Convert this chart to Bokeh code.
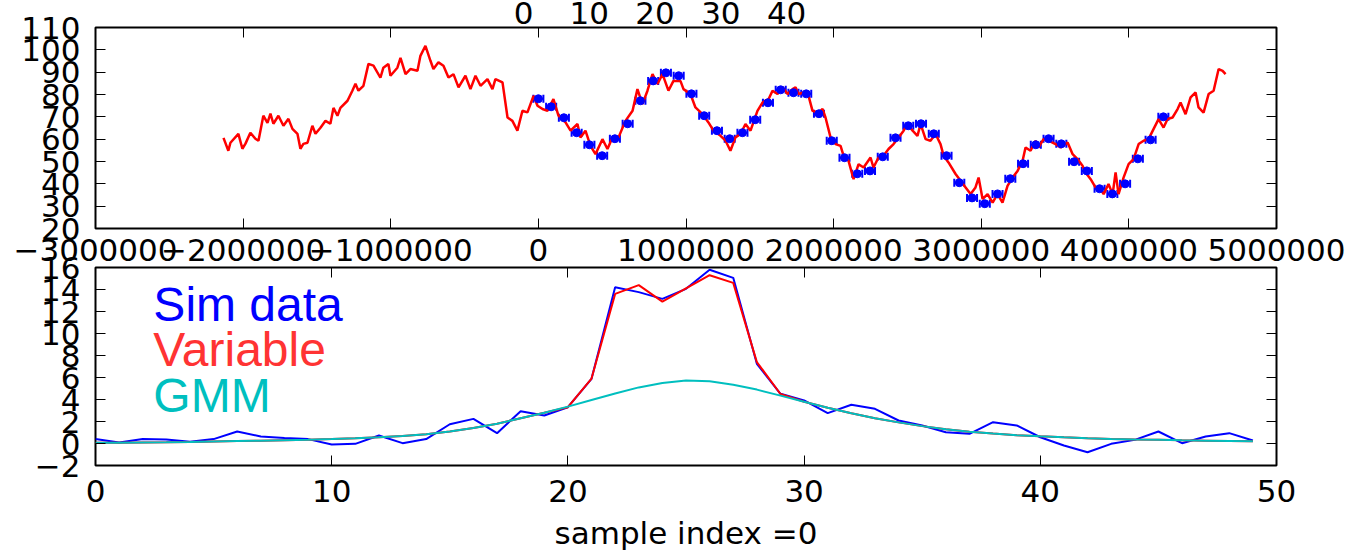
from bokeh.plotting import figure
from bokeh.layouts import column
from bokeh.models import (Range1d, LinearAxis, FixedTicker, ColumnDataSource,
                          Whisker, TeeHead, Label)
from bokeh.embed import file_html
from bokeh.resources import INLINE

# ---------------- data: top panel ----------------
walk_t = [-2133000, -2100000, -2086000, -2032000, -2005000, -1984000, -1951000, -1917000,
          -1896000, -1863000, -1835000, -1815000, -1795000, -1761000, -1727000, -1693000,
          -1666000, -1632000, -1612000, -1592000, -1564000, -1531000, -1510000, -1476000,
          -1442000, -1409000, -1388000, -1361000, -1341000, -1293000, -1260000, -1239000,
          -1219000, -1185000, -1151000, -1117000, -1070000, -1050000, -1016000, -1002000,
          -955000, -934000, -900000, -867000, -819000, -799000, -765000, -731000, -711000,
          -677000, -643000, -609000, -575000, -541000, -494000, -460000, -426000, -392000,
          -345000, -311000, -291000, -243000, -209000, -176000, -142000, -108000, -74000,
          -33000, -6000, 28000, 62000, 102000, 136000, 184000, 218000, 265000, 285000,
          319000, 353000, 387000, 434000, 468000, 502000, 543000, 590000, 638000, 671000,
          705000, 739000, 773000, 807000, 841000, 881000, 915000, 963000, 983000, 1030000,
          1064000, 1112000, 1152000, 1186000, 1234000, 1268000, 1301000, 1335000, 1369000,
          1403000, 1437000, 1484000, 1518000, 1559000, 1586000, 1620000, 1654000, 1688000,
          1722000, 1742000, 1762000, 1796000, 1830000, 1857000, 1898000, 1925000, 1945000,
          1979000, 2013000, 2047000, 2067000, 2101000, 2135000, 2169000, 2203000, 2250000,
          2270000, 2304000, 2338000, 2372000, 2406000, 2440000, 2474000, 2501000, 2535000,
          2568000, 2589000, 2623000, 2656000, 2690000, 2724000, 2745000, 2778000, 2826000,
          2860000, 2894000, 2928000, 2961000, 2982000, 3009000, 3043000, 3077000, 3110000,
          3144000, 3178000, 3212000, 3246000, 3280000, 3300000, 3334000, 3368000, 3388000,
          3422000, 3456000, 3503000, 3537000, 3585000, 3619000, 3652000, 3686000, 3707000,
          3741000, 3774000, 3808000, 3829000, 3862000, 3890000, 3910000, 3930000, 3964000,
          3998000, 4032000, 4066000, 4100000, 4133000, 4167000, 4201000, 4235000, 4262000,
          4296000, 4330000, 4350000, 4384000, 4418000, 4452000, 4472000, 4506000, 4540000,
          4574000, 4608000, 4635000, 4655000]
walk_v = [60.6, 54.8, 58.4, 62.4, 55.7, 58.0, 62.9, 60.2,
          59.3, 70.5, 67.3, 71.4, 66.9, 70.5, 66.0, 69.1,
          64.6, 62.4, 55.7, 57.9, 58.4, 66.0, 62.4, 65.1,
          68.2, 66.9, 74.0, 70.5, 74.0, 77.2, 81.7, 84.8,
          81.7, 83.9, 93.7, 92.9, 87.5, 92.0, 93.7, 88.4,
          92.0, 96.4, 89.1, 91.4, 90.6, 97.3, 101.8, 95.1, 91.4,
          94.4, 92.9, 87.6, 89.1, 83.2, 88.4, 82.4, 88.4, 83.9,
          86.9, 82.4, 86.9, 85.4, 69.7, 68.2, 63.8, 72.7, 72.0,
          79.4, 75.0, 73.5, 72.7, 77.9, 70.5, 67.5, 63.8, 66.8, 60.8,
          63.8, 57.0, 53.3, 60.0, 55.6, 60.8, 60.8, 68.2, 72.7, 82.4,
          75.7, 81.7, 89.1, 84.7, 89.1, 81.7, 86.1, 86.0, 82.4, 80.2,
          74.2, 71.2, 67.5, 63.8, 61.5, 59.3, 54.8, 60.8, 62.3,
          66.8, 63.8, 72.7, 76.4, 77.9, 81.7, 80.2, 83.2, 80.2,
          82.4, 83.2, 80.2, 80.9, 79.4, 72.7, 71.9, 73.5, 69.7,
          60.8, 57.8, 57.0, 52.6, 50.3, 42.1, 48.8, 47.3, 51.8,
          47.3, 51.8, 52.6, 55.6, 57.8, 60.8, 63.8, 66.8, 63.8,
          61.5, 66.8, 60.0, 59.3, 62.3, 57.8, 52.6, 49.6, 44.4,
          41.4, 38.4, 35.4, 38.4, 42.8, 33.2, 35.4, 31.6, 35.4,
          31.6, 39.1, 42.8, 45.8, 50.3, 56.3, 54.8, 59.3, 56.3,
          60.0, 59.3, 57.8, 56.3, 58.5, 53.3, 51.1, 48.1, 45.1,
          42.1, 38.4, 37.6, 35.4, 39.9, 35.4, 45.1, 35.4, 42.8,
          48.8, 51.1, 57.8, 59.3, 60.0, 64.5, 69.0, 65.2, 69.0,
          69.7, 73.5, 76.4, 71.2, 78.7, 80.9, 74.2, 71.9, 80.2,
          81.7, 91.4, 90.6, 89.1]

SECONDS_PER_DAY = 86400
sample_day = [0, 1, 2, 3, 4, 5, 6, 7, 8, 9, 10, 11, 12, 13, 14, 15, 16, 17, 18, 19,
              20, 21, 22, 23, 24, 25, 26, 27, 28, 29, 30, 31, 32, 33, 34, 35, 36, 37, 38, 39,
              40, 41, 42, 43, 44, 45, 46, 47, 48, 49]
sample_v = [78.1, 74.5, 69.6, 62.9, 57.5, 52.6, 60.2, 66.9, 77.2, 86.1,
            89.7, 88.4, 80.3, 70.5, 63.8, 60.2, 62.9, 68.7, 76.3, 82.1,
            80.8, 80.3, 71.4, 59.3, 51.7, 44.5, 45.8, 52.1, 60.6, 66.0,
            66.9, 62.4, 52.6, 40.5, 33.7, 31.1, 35.5, 42.3, 49.0, 57.5,
            60.2, 57.9, 49.9, 45.8, 37.8, 35.5, 40.0, 51.2, 59.7, 70.0]
sample_half_width = 34000  # horizontal error bar half width (seconds)

top_x_ticks = [-3000000, -2000000, -1000000, 0, 1000000, 2000000, 3000000, 4000000, 5000000]
top_x_labels = ["\u22123000000", "\u22122000000", "\u22121000000", "0", "1000000",
                "2000000", "3000000", "4000000", "5000000"]
top_y_ticks = [20, 30, 40, 50, 60, 70, 80, 90, 100, 110]
index_ticks = [0, 10, 20, 30, 40]
index_labels = ["0", "10", "20", "30", "40"]

# ---------------- data: bottom panel ----------------
sample_index = [0, 1, 2, 3, 4, 5, 6, 7, 8, 9, 10, 11, 12, 13, 14, 15, 16, 17, 18, 19,
                20, 21, 22, 23, 24, 25, 26, 27, 28, 29, 30, 31, 32, 33, 34, 35, 36, 37, 38, 39,
                40, 41, 42, 43, 44, 45, 46, 47, 48, 49]
sim_data = [0.4, 0.1, 0.4, 0.36, 0.15, 0.4, 1.09, 0.64, 0.5, 0.4,
            -0.09, -0.03, 0.73, 0.03, 0.4, 1.75, 2.24, 0.94, 2.94, 2.55,
            3.3, 5.88, 14.2, 13.76, 13.15, 14.06, 15.79, 15.06, 7.24, 4.52,
            3.91, 2.76, 3.52, 3.15, 2.09, 1.64, 1.03, 0.88, 1.94, 1.64,
            0.57, -0.18, -0.79, -0.03, 0.33, 1.09, 0.03, 0.64, 0.94, 0.27]
variable = [0.06, 0.07, 0.09, 0.11, 0.14, 0.18, 0.22, 0.26, 0.3, 0.34,
            0.4, 0.47, 0.56, 0.68, 0.85, 1.1, 1.4, 1.8, 2.3, 2.8,
            3.3, 5.9, 13.6, 14.4, 12.9, 14.1, 15.3, 14.6, 7.4, 4.5,
            3.8, 3.25, 2.75, 2.3, 1.92, 1.58, 1.3, 1.07, 0.9, 0.76,
            0.65, 0.56, 0.48, 0.42, 0.37, 0.33, 0.29, 0.26, 0.23, 0.2]
gmm = [0.06, 0.07, 0.09, 0.11, 0.14, 0.18, 0.22, 0.26, 0.3, 0.34,
       0.4, 0.47, 0.56, 0.68, 0.85, 1.1, 1.4, 1.8, 2.3, 2.8,
       3.35, 3.95, 4.55, 5.1, 5.5, 5.72, 5.65, 5.35, 4.9, 4.35,
       3.8, 3.25, 2.75, 2.3, 1.92, 1.58, 1.3, 1.07, 0.9, 0.76,
       0.65, 0.56, 0.48, 0.42, 0.37, 0.33, 0.29, 0.26, 0.23, 0.2]
bottom_x_ticks = [0, 10, 20, 30, 40, 50]
bottom_y_ticks = [-2, 0, 2, 4, 6, 8, 10, 12, 14, 16]
bottom_y_labels = ["\u22122", "0", "2", "4", "6", "8", "10", "12", "14", "16"]
legend_names = ["Sim data", "Variable", "GMM"]

# ---------------- styles ----------------
FONT = "DejaVu Sans"
TICK_FS = "31px"
BLUE = "#0000ff"
RED = "#ff0000"
CYAN = "#00bfbf"


def style_axis(ax, ticks, overrides=None, labels=True, standoff=4):
    ax.ticker = FixedTicker(ticks=ticks)
    ax.axis_line_color = None
    ax.major_tick_in = 10
    ax.major_tick_out = 0
    ax.major_tick_line_color = "black"
    ax.major_tick_line_width = 1
    ax.minor_tick_line_color = None
    ax.major_label_text_font = FONT
    if labels:
        ax.major_label_text_color = "black"
        ax.major_label_text_font_size = TICK_FS
        ax.major_label_standoff = standoff
    else:
        ax.major_label_text_color = None
        ax.major_label_text_font_size = "0px"
        ax.major_label_standoff = 0
    if overrides:
        ax.major_label_overrides = overrides


def base_fig(height, xr, yr, top, bottom, **kw):
    p = figure(width=1363, height=height, x_range=xr, y_range=yr,
               output_backend="svg", toolbar_location=None,
               min_border_left=95, min_border_right=87,
               min_border_top=top, min_border_bottom=bottom, **kw)
    p.outline_line_color = "black"
    p.outline_line_width = 2
    p.xgrid.visible = False
    p.ygrid.visible = False
    p.background_fill_color = "white"
    return p


# ---------------- top panel ----------------
# frame sits 40px below the canvas top; the canvas is lifted 13px so the frame lands at 27px
top = base_fig(285, Range1d(-3000000, 5000000), Range1d(20, 110), 40, 44,
               margin=(-13, 0, 0, 0))
top.border_fill_color = None
top.extra_x_ranges = {"idx": Range1d(-65.1, 114.5)}

top.line(walk_t, walk_v, line_color=RED, line_width=2.5)

sample_t = [d * SECONDS_PER_DAY for d in sample_day]
err_src = ColumnDataSource(dict(
    t=sample_t, v=sample_v,
    lo=[t - sample_half_width for t in sample_t],
    hi=[t + sample_half_width for t in sample_t]))
top.add_layout(Whisker(source=err_src, base="v", lower="lo", upper="hi",
                       dimension="width", line_color=BLUE, line_width=2,
                       lower_head=TeeHead(size=8, line_color=BLUE, line_width=2),
                       upper_head=TeeHead(size=8, line_color=BLUE, line_width=2)))
top.scatter("t", "v", source=err_src, marker="circle", size=8,
            fill_color=BLUE, line_color=BLUE)

style_axis(top.xaxis[0], top_x_ticks, dict(zip(top_x_ticks, top_x_labels)), standoff=10)
style_axis(top.yaxis[0], top_y_ticks, {t: str(t) for t in top_y_ticks}, standoff=15)

ax = LinearAxis()
style_axis(ax, top_y_ticks, labels=False)
top.add_layout(ax, "right")
ax = LinearAxis()
style_axis(ax, top_x_ticks, labels=False)
top.add_layout(ax, "above")
# secondary axis: sample index labels along the top edge (no tick marks)
ax = LinearAxis(x_range_name="idx")
style_axis(ax, index_ticks, dict(zip(index_ticks, index_labels)), standoff=4)
ax.major_tick_line_color = None
top.add_layout(ax, "above")

# ---------------- bottom panel ----------------
bot = base_fig(307, Range1d(0, 50), Range1d(-2, 16), 17, 92, margin=(-22, 0, 0, 0))
bot.border_fill_color = None

bot.line(sample_index, sim_data, line_color=BLUE, line_width=2)
bot.line(sample_index, variable, line_color=RED, line_width=2)
bot.line(sample_index, gmm, line_color=CYAN, line_width=2)

style_axis(bot.xaxis[0], bottom_x_ticks, {t: str(t) for t in bottom_x_ticks}, standoff=14)
style_axis(bot.yaxis[0], bottom_y_ticks, dict(zip(bottom_y_ticks, bottom_y_labels)), standoff=15)
bot.xaxis[0].axis_label = "sample index =0"
bot.xaxis[0].axis_label_text_font = FONT
bot.xaxis[0].axis_label_text_font_size = TICK_FS
bot.xaxis[0].axis_label_text_font_style = "normal"
bot.xaxis[0].axis_label_text_color = "black"
bot.xaxis[0].axis_label_standoff = 10

ax = LinearAxis()
style_axis(ax, bottom_y_ticks, labels=False)
bot.add_layout(ax, "right")
ax = LinearAxis()
style_axis(ax, bottom_x_ticks, labels=False)
bot.add_layout(ax, "above")

legend_colors = [BLUE, "#ff3333", CYAN]
legend_y = [12.64, 8.55, 4.36]
for name, col, yy in zip(legend_names, legend_colors, legend_y):
    bot.add_layout(Label(x=2.45, y=yy, text=name, text_color=col,
                         text_font="Liberation Sans", text_font_size="48px",
                         text_baseline="alphabetic", text_align="left"))

layout = column(top, bot, spacing=0)
open("out.html", "w").write(file_html(layout, INLINE))
